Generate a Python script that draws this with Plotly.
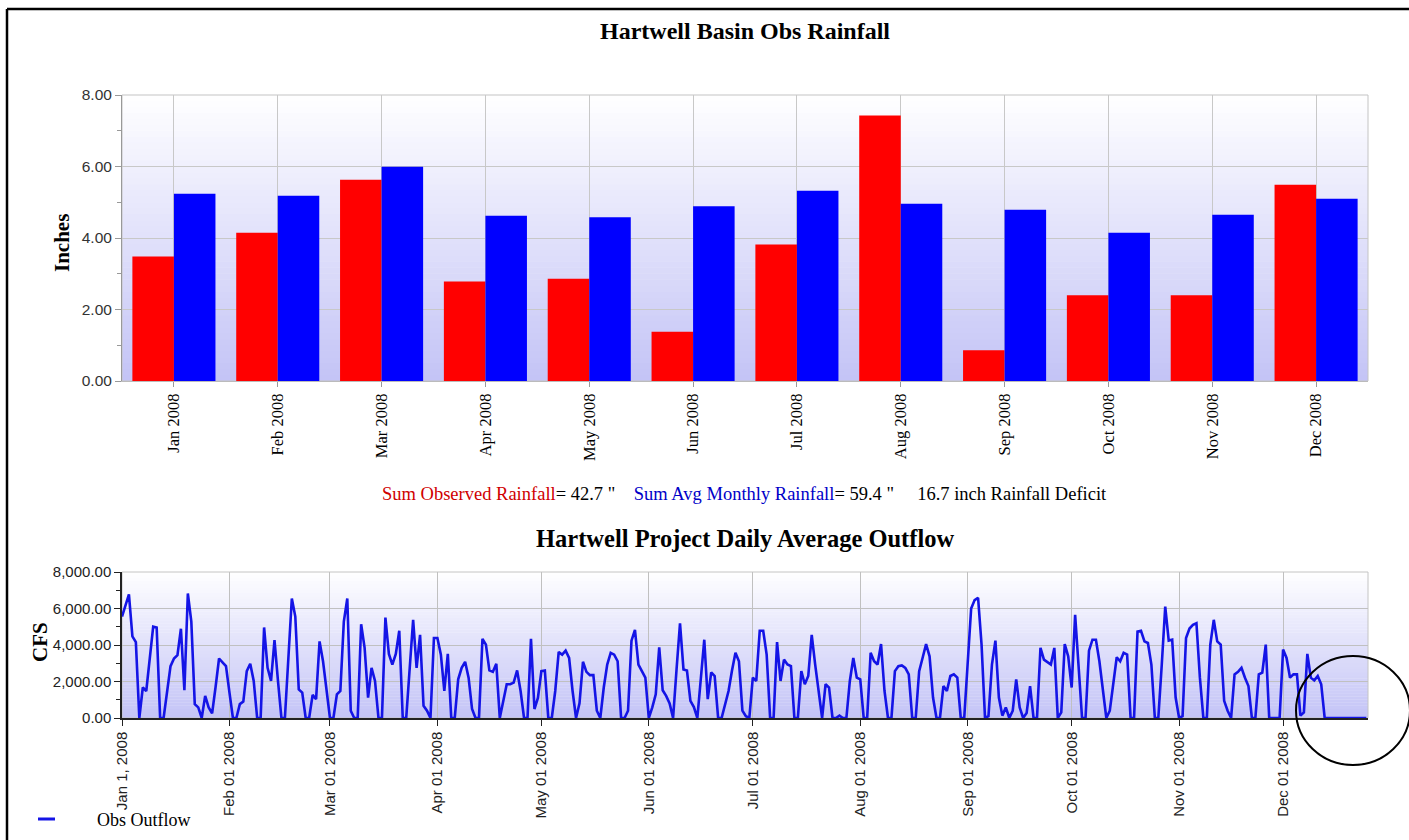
import plotly.graph_objects as go
import pandas as pd

# ---------------- data ----------------
months = ["Jan 2008", "Feb 2008", "Mar 2008", "Apr 2008", "May 2008", "Jun 2008",
          "Jul 2008", "Aug 2008", "Sep 2008", "Oct 2008", "Nov 2008", "Dec 2008"]
observed_rain = [3.48, 4.15, 5.63, 2.78, 2.86, 1.38, 3.82, 7.43, 0.86, 2.40, 2.40, 5.49]
avg_rain = [5.24, 5.18, 5.99, 4.62, 4.58, 4.89, 5.32, 4.96, 4.79, 4.15, 4.65, 5.10]

outflow_jan = [5560, 6200, 6770, 4470, 4160, 0, 1670, 1480, 3300, 5010, 4960, 0, 0, 1400, 2840, 3260,
               3440, 4890, 1520, 6820, 5280, 760, 580, 0, 1210, 580, 250, 1700, 3260, 3050, 2840]
outflow_feb = [1400, 0, 0, 760, 900, 2570, 2970, 2030, 0, 0, 4960, 2750, 2030, 4270, 2030, 0, 0,
               3300, 6550, 5560, 1570, 1390, 0, 0, 1270, 1030, 4200, 3110, 1500]
outflow_mar = [0, 0, 1300, 1480, 5280, 6550, 400, 0, 0, 5140, 3840, 1120, 2750, 2030, 0, 0, 5500,
               3510, 2930, 3510, 4780, 0, 0, 2700, 5380, 2750, 4560, 670, 400, 0, 4380]
outflow_apr = [4380, 3470, 1480, 3510, 0, 0, 2120, 2750, 3080, 2210, 490, 0, 0, 4340, 4020, 2610,
               2530, 2970, 0, 900, 1850, 1850, 1940, 2610, 1480, 0, 0, 4340, 490, 1100]
outflow_may = [2570, 2600, 0, 0, 1480, 3620, 3470, 3690, 3290, 1480, 0, 800, 3080, 2530, 2350, 2350,
               400, 0, 1670, 2930, 3570, 3470, 3110, 0, 0, 400, 4240, 4830, 2930, 2570, 2210]
outflow_jun = [0, 580, 1300, 3870, 1520, 1210, 800, 0, 2660, 5190, 2660, 2600, 940, 600, 0, 2390,
               4290, 1030, 2500, 2300, 0, 0, 700, 1480, 2600, 3570, 3110, 400, 100, 0]
outflow_jul = [2210, 2030, 4780, 4780, 3470, 0, 0, 4160, 2030, 3200, 2930, 2840, 0, 0, 2570, 1850,
               2300, 4560, 2930, 1480, 0, 1850, 1670, 0, 0, 130, 0, 0, 2030, 3290, 2210]
outflow_aug = [2120, 0, 0, 3570, 3110, 2930, 4050, 1480, 0, 0, 2570, 2840, 2880, 2750, 2390, 0, 0,
               2570, 3300, 4050, 3380, 1120, 0, 0, 1750, 1480, 2300, 2390, 2210, 0, 0]
outflow_sep = [2930, 6000, 6460, 6590, 4020, 0, 100, 2930, 4240, 1120, 130, 580, 0, 400, 2120, 580,
               0, 270, 1750, 0, 0, 3840, 3200, 3080, 2930, 3840, 0, 310, 4050, 3380]
outflow_oct = [1670, 5650, 2930, 0, 0, 3690, 4290, 4290, 3110, 1480, 0, 400, 1800, 3330, 3110, 3570,
               3470, 0, 0, 4740, 4780, 4200, 4110, 2930, 0, 0, 2930, 6100, 4240, 4290, 1120]
outflow_nov = [0, 100, 4380, 4900, 5100, 5190, 2210, 0, 0, 4020, 5380, 4200, 4020, 940, 400, 0, 2390,
               2530, 2750, 2210, 1750, 0, 0, 2390, 2480, 4020, 0, 0, 0, 0]
outflow_dec = [3750, 3290, 2210, 2390, 2390, 130, 310, 3510, 2210, 2060, 2300, 1850, 0, 0, 0, 0, 0,
               0, 0, 0, 0, 0, 0, 0, 0]

outflow = (outflow_jan + outflow_feb + outflow_mar + outflow_apr + outflow_may + outflow_jun +
           outflow_jul + outflow_aug + outflow_sep + outflow_oct + outflow_nov + outflow_dec)
dates = pd.date_range("2008-01-01", periods=len(outflow), freq="D")

month_ticks = pd.date_range("2008-01-01", "2008-12-01", freq="MS")
month_tick_text = ["Jan 1, 2008", "Feb 01 2008", "Mar 01 2008", "Apr 01 2008", "May 01 2008",
                   "Jun 01 2008", "Jul 01 2008", "Aug 01 2008", "Sep 01 2008", "Oct 01 2008",
                   "Nov 01 2008", "Dec 01 2008"]

sum_obs = round(sum(observed_rain), 1)
sum_avg = 59.4
deficit = round(sum_avg - sum_obs, 1)

# ---------------- layout helpers ----------------
W, H = 1409, 840
SERIF = "Liberation Serif, Times New Roman, serif"
SANS = "Liberation Sans, Arial, sans-serif"


def px(x):
    return x / W


def py(y):
    return 1 - y / H


x_dom = [px(122), px(1368)]
y1_dom = [py(381), py(95)]
y2_dom = [py(718), py(572)]

fig = go.Figure()
fig.add_trace(go.Bar(x=months, y=observed_rain, name="Observed Rainfall",
                     marker=dict(color="#ff0000", line=dict(width=0)), xaxis="x", yaxis="y",
                     showlegend=False))
fig.add_trace(go.Bar(x=months, y=avg_rain, name="Avg Monthly Rainfall",
                     marker=dict(color="#0000ff", line=dict(width=0)), xaxis="x", yaxis="y",
                     showlegend=False))
fig.add_trace(go.Scatter(x=dates, y=outflow, mode="lines", name="Obs Outflow",
                         line=dict(color="#1414e6", width=2.6), xaxis="x2", yaxis="y2",
                         showlegend=False))

shapes = []
# gradient backgrounds
NB = 48
for xr, yr in (("x domain", "y domain"), ("x2 domain", "y2 domain")):
    for i in range(NB):
        t = i / (NB - 1)
        r = int(round(196 + (254 - 196) * t))
        b = int(round(246 + (255 - 246) * t))
        shapes.append(dict(type="rect", xref=xr, yref=yr, x0=0, x1=1, y0=i / NB, y1=(i + 1) / NB + 0.002,
                           fillcolor=f"rgb({r},{r},{b})", line=dict(width=0), layer="below"))
    shapes.append(dict(type="rect", xref=xr, yref=yr, x0=0, x1=1, y0=0, y1=1,
                       line=dict(color="#c4c4c4", width=1), fillcolor="rgba(0,0,0,0)", layer="below"))

# outer frame (top and left edges)
shapes.append(dict(type="line", xref="paper", yref="paper", x0=px(7), x1=px(1409), y0=py(9), y1=py(9),
                   line=dict(color="black", width=2.5), layer="above"))
shapes.append(dict(type="line", xref="paper", yref="paper", x0=px(7), x1=px(7), y0=py(9), y1=py(840),
                   line=dict(color="black", width=2.5), layer="above"))
# highlight circle
shapes.append(dict(type="circle", xref="paper", yref="paper", x0=px(1296), x1=px(1410),
                   y0=py(765), y1=py(656), line=dict(color="black", width=2), layer="above"))
# legend symbol
shapes.append(dict(type="line", xref="paper", yref="paper", x0=px(38), x1=px(55), y0=py(819), y1=py(819),
                   line=dict(color="#1414e6", width=3), layer="above"))


def note(text, x, y, size, angle=0, xanchor="center"):
    return dict(text=text, x=px(x), y=py(y), xref="paper", yref="paper", showarrow=False,
                xanchor=xanchor, yanchor="middle", textangle=angle,
                font=dict(family=SERIF, size=size, color="black"))


annotations = [
    note("<b>Hartwell Basin Obs Rainfall</b>", 745, 31, 24),
    note("<b>Inches</b>", 62, 243, 21, angle=-90),
    note((f"<span style='color:#d00000'>Sum Observed Rainfall</span>= {sum_obs} \""
          f"&nbsp;&nbsp;&nbsp; <span style='color:#0000c8'>Sum Avg Monthly Rainfall</span>= {sum_avg} \""
          f"&nbsp;&nbsp;&nbsp;&nbsp; {deficit} inch Rainfall Deficit"), 744, 494, 18.5),
    note("<b>Hartwell Project Daily Average Outflow</b>", 745, 538, 24.5),
    note("<b>CFS</b>", 40, 642, 21, angle=-90),
    note("Obs Outflow", 95, 820, 18, xanchor="left"),
]

fig.update_layout(
    width=W, height=H, autosize=False,
    margin=dict(l=0, r=0, t=0, b=0, pad=0),
    paper_bgcolor="white", plot_bgcolor="white",
    barmode="group", bargap=0.2, bargroupgap=0,
    showlegend=False,
    shapes=shapes, annotations=annotations,
    xaxis=dict(domain=x_dom, anchor="y", type="category", tickangle=-90, automargin=False,
               tickfont=dict(family=SERIF, size=16.5, color="black"),
               showgrid=True, gridcolor="#c8c8c8", gridwidth=1,
               ticks="outside", ticklen=5, tickcolor="#999999",
               showline=True, linecolor="#bbbbbb", linewidth=1),
    yaxis=dict(domain=y1_dom, anchor="x", range=[0, 8], dtick=2, tickformat=".2f", automargin=False,
               tickfont=dict(family=SANS, size=15.5, color="#333333"),
               showgrid=True, gridcolor="#c8c8c8", gridwidth=1, zeroline=False,
               ticks="outside", ticklen=6, tickcolor="#999999",
               minor=dict(dtick=1, ticks="outside", ticklen=4, tickcolor="#999999", showgrid=False),
               showline=True, linecolor="#999999", linewidth=1),
    xaxis2=dict(domain=x_dom, anchor="y2", type="date", automargin=False,
                range=["2008-01-01", "2008-12-25 12:00"],
                tickmode="array", tickvals=list(month_ticks), ticktext=month_tick_text,
                tickangle=-90, tickfont=dict(family=SANS, size=15, color="#222222"),
                showgrid=True, gridcolor="#c0c0c0", gridwidth=1,
                ticks="outside", ticklen=6, tickcolor="#222222",
                showline=True, linecolor="#222222", linewidth=1.5),
    yaxis2=dict(domain=y2_dom, anchor="x2", range=[0, 8000], dtick=2000, tickformat=",.2f",
                automargin=False,
                tickfont=dict(family=SANS, size=15, color="#222222"),
                showgrid=True, gridcolor="#c0c0c0", gridwidth=1, zeroline=False,
                ticks="outside", ticklen=6, tickcolor="#222222",
                minor=dict(dtick=1000, ticks="outside", ticklen=4, tickcolor="#222222", showgrid=False),
                showline=True, linecolor="#222222", linewidth=1.5),
)

fig.write_html("out.html", config={"displayModeBar": False},
               post_script="document.body.style.margin='0px';")
